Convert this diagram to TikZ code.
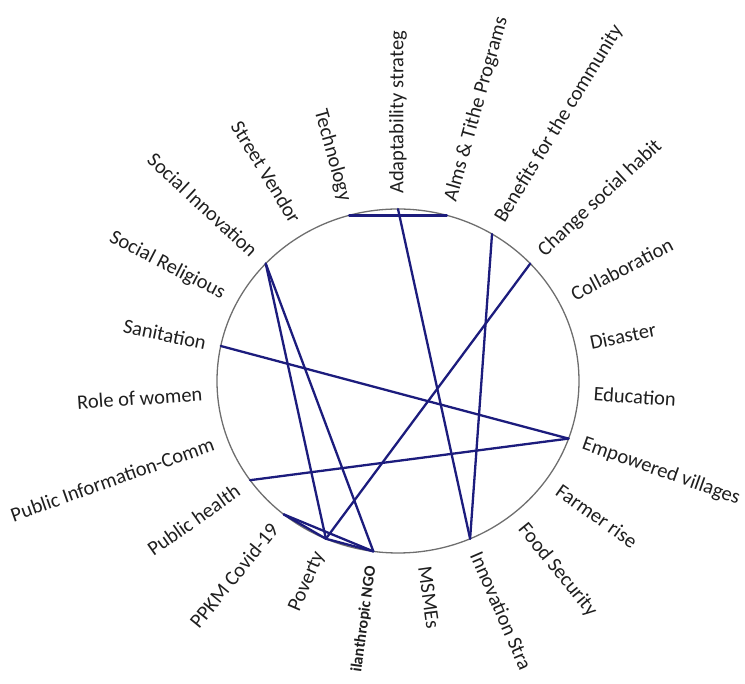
\documentclass[tikz,border=0pt]{standalone}
\usepackage{fontspec}
\setmainfont{Carlito}
\usepackage{xcolor}
\usepackage{tikz}
\usetikzlibrary{calc}

\definecolor{linkblue}{RGB}{28,28,125}
\definecolor{ringgray}{RGB}{110,110,110}

\begin{document}
\begin{tikzpicture}[
  x=1pt, y=1pt,
  ring/.style={draw=ringgray, line width=1.3pt},
  lbl/.style={font=\fontsize{20.5}{24}\selectfont, text=black!88,
              inner sep=0pt},
  link/.style={draw=linkblue, line width=2.3pt, line cap=round}
]
\useasboundingbox (-398,-303) rectangle (347,381);

% Circle
\draw[ring] (0,0) ellipse [x radius=181, y radius=172];

% Labels, right half
\foreach \nm/\txt [count=\i from 0] in {
    adapt/Adaptability strateg, alms/Alms \& Tithe Programs,
    benef/Benefits for the community, change/Change social habit,
    collab/Collaboration, disaster/Disaster, edu/Education,
    empow/Empowered villages, farmer/Farmer rise, food/Food Security,
    innov/Innovation Stra, msme/MSMEs} {
  \pgfmathsetmacro\ang{90-\i*360/23}
  \coordinate (\nm) at (\ang:181pt and 172pt);
  \node[lbl, anchor=west, rotate=\ang] (\nm-lbl)
      at (\ang:196pt and 187pt) {\txt};
}

% Labels, left half
\foreach \nm/\txt [count=\i from 13] in {
    poverty/Poverty, ppkm/PPKM Covid-19, phealth/Public health,
    pinfo/Public Information-Comm, women/Role of women,
    sanit/Sanitation, socrel/Social Religious,
    socinn/Social Innovation, street/Street Vendor, tech/Technology} {
  \pgfmathsetmacro\ang{90-\i*360/23}
  \coordinate (\nm) at (\ang:181pt and 172pt);
  \node[lbl, anchor=east, rotate=\ang+180] (\nm-lbl)
      at (\ang:196pt and 187pt) {\txt};
}

% NGO label (bold, smaller)
\pgfmathsetmacro\angngo{90-12*360/23}
\coordinate (ngo) at (\angngo:181pt and 172pt);
\node[lbl, anchor=east, rotate=\angngo+180,
      font=\fontsize{16}{18}\selectfont\bfseries] (ngo-lbl)
    at (\angngo:196pt and 187pt) {ilanthropic NGO};

% Links
\draw[link] (tech) -- (alms);
\draw[link] (adapt) -- (innov);
\draw[link] (benef) -- (innov);
\draw[link] (change) -- (poverty);
\draw[link] (socinn) -- (poverty);
\draw[link] (socinn) -- (ngo);
\draw[link] (sanit) -- (empow);
\draw[link] (phealth) -- (empow);
\draw[link] (ppkm) -- (poverty);
\draw[link] (ppkm) -- (ngo);
\draw[link] (poverty) -- (ngo);
\end{tikzpicture}
\end{document}
